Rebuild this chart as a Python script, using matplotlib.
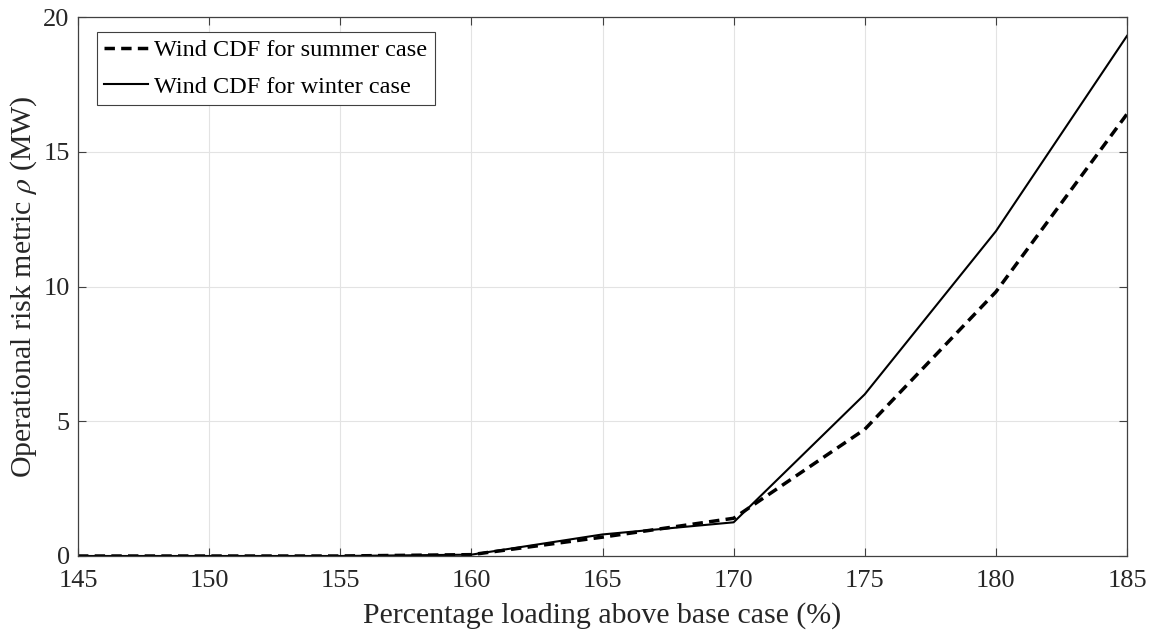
import matplotlib
matplotlib.use("Agg")
import matplotlib.pyplot as plt

loading = [145, 150, 155, 160, 165, 170, 175, 180, 185]
summer_risk = [0.0, 0.0, 0.0, 0.05, 0.7, 1.4, 4.7, 9.8, 16.4]
winter_risk = [0.0, 0.0, 0.0, 0.05, 0.8, 1.25, 6.0, 12.05, 19.3]
x_ticks = [145, 150, 155, 160, 165, 170, 175, 180, 185]
y_ticks = [0, 5, 10, 15, 20]

plt.rcParams['font.family'] = ['Liberation Serif', 'DejaVu Serif']
plt.rcParams['mathtext.fontset'] = 'stix'

W, H = 1157, 632
fig = plt.figure(figsize=(W / 100, H / 100), dpi=100)
left, right, top, bottom = 78, 1127, 17, 556
ax = fig.add_axes([left / W, (H - bottom) / H, (right - left) / W, (bottom - top) / H])

ax.plot(loading, summer_risk, color='black', linestyle=(0, (3, 1.8)), linewidth=2.5,
        label='Wind CDF for summer case')
ax.plot(loading, winter_risk, color='black', linestyle='-', linewidth=1.5,
        label='Wind CDF for winter case')

ax.set_xlim(145, 185)
ax.set_ylim(0, 20)
ax.set_xticks(x_ticks)
ax.set_yticks(y_ticks)
ax.grid(True, color='#e3e3e3', linewidth=0.8)
ax.set_axisbelow(True)
ax.tick_params(direction='in', top=True, right=True, labelsize=19, length=6,
               width=0.8, colors='#404040', labelcolor='#262626', pad=6)
ax.tick_params(axis='x', pad=10)
for sp in ax.spines.values():
    sp.set_color('#404040')
    sp.set_linewidth(0.9)

ax.set_xlabel('Percentage loading above base case (%)', fontsize=21.5, color='#262626', labelpad=7)
ax.set_ylabel(r'Operational risk metric $\rho$ (MW)', fontsize=21.5, color='#262626', labelpad=3)

leg = ax.legend(loc='upper left', fontsize=17.5, frameon=True, fancybox=False,
                edgecolor='#404040', framealpha=1, handlelength=1.8, handletextpad=0.25,
                borderpad=0.3, labelspacing=0.6, borderaxespad=0,
                bbox_to_anchor=((97 - left) / (right - left), 1 - (32 - top) / (bottom - top)))
leg.get_frame().set_linewidth(0.8)

fig.savefig('out.png', dpi=100)
